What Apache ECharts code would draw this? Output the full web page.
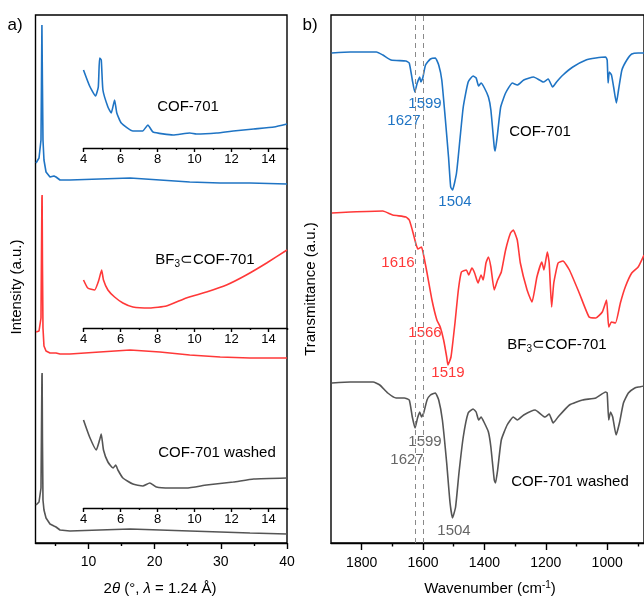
<!DOCTYPE html>
<html>
<head>
<meta charset="utf-8">
<script src="https://cdn.jsdelivr.net/npm/echarts@6/dist/echarts.min.js"></script>
<style>
  html, body { margin: 0; padding: 0; background: #fff; }
  #chart { width: 644px; height: 597px; }
</style>
</head>
<body>
<div id="chart"></div>
<script>
// ---- a) XRD, full range (2theta in deg, intensity a.u.)
var xrdX = [2.08, 2.53, 2.83, 2.90, 2.97, 3.0, 3.05, 3.13, 3.28, 3.59, 4.19, 4.79, 4.95, 5.10, 5.70, 7.2, 11.7, 16.3, 20.8, 25.3, 29.9, 34.4, 40]
var xrdCof = [22, 27, 45, 100, 160, 162, 100, 45, 25, 13, 8, 9, 11, 8, 5, 5, 6, 7, 5, 3, 2, 2, 1]
var xrdBf3 = [26, 27, 40, 100, 160, 163, 95, 30, 12, 7, 5, 5, 6, 5, 4, 4, 6, 8, 6, 3, 1, 0, 0]
var xrdWashed = [29, 32, 46, 100, 158, 161, 95, 34, 24, 16, 10, 8, 9, 7, 4, 3, 4, 5, 4, 3, 2, 1, 0]
var xrdOffsets = [358, 185, 9]

// ---- a) insets, 4-15 deg
var insCofX = [4.0, 4.33, 4.65, 4.8, 4.87, 4.96, 5.05, 5.32, 5.5, 5.68, 5.8, 6.04, 6.67, 7.2, 7.48, 7.76, 8.84, 9.75, 10.1, 11.2, 12.1, 13.2, 14.3, 15]
var insCofY = [78, 62, 52, 61, 90, 88, 58, 41, 35, 48, 35, 25, 17, 17, 23, 16, 13, 15, 14, 15, 17, 19, 21, 24]
var insBf3X = [4.0, 4.23, 4.6, 4.83, 4.98, 5.08, 5.32, 5.68, 6.13, 6.67, 7.58, 8.48, 9.56, 10.65, 11.73, 12.8, 13.9, 15]
var insBf3Y = [48, 40, 38, 48, 58, 48, 38, 31, 25, 21, 20, 22, 30, 36, 43, 53, 65, 78]
var insWashX = [4.0, 4.33, 4.69, 4.87, 4.96, 5.08, 5.32, 5.6, 5.74, 5.86, 6.13, 6.67, 7.2, 7.58, 7.94, 8.66, 9.56, 10.65, 12.1, 13.2, 15]
var insWashY = [88, 71, 58, 68, 74, 58, 46, 40, 43, 38, 30, 24, 22, 25, 21, 20, 20, 23, 26, 29, 30]

// ---- b) FTIR (wavenumber cm-1, transmittance a.u.)
var irCofX = [1898, 1837, 1752, 1731, 1704, 1656, 1645, 1635, 1627, 1619, 1611, 1607, 1601, 1592, 1576, 1560, 1549, 1539, 1528, 1517, 1510, 1504, 1491, 1480, 1469, 1453, 1437, 1427, 1419, 1411, 1400, 1387, 1379, 1368, 1365, 1357, 1347, 1331, 1309, 1293, 1272, 1240, 1208, 1192, 1178, 1165, 1144, 1112, 1069, 1037, 1005, 1000, 997, 993, 986, 979, 970, 963, 952, 936, 920, 899, 880]
var irCofY = [160, 161, 161, 158, 153, 152, 150, 133, 121, 130, 136, 131, 135, 148, 154, 155, 148, 133, 96, 56, 26, 23, 40, 73, 106, 131, 137, 135, 127, 130, 125, 116, 103, 66, 62, 80, 106, 120, 130, 128, 133, 136, 131, 134, 126, 131, 138, 146, 153, 155, 156, 153, 130, 141, 138, 126, 110, 123, 143, 153, 159, 160, 160]
var irBf3X = [1897, 1837, 1731, 1699, 1656, 1645, 1635, 1624, 1617, 1605, 1597, 1587, 1571, 1555, 1544, 1533, 1523, 1519, 1509, 1496, 1485, 1475, 1459, 1451, 1441, 1432, 1421, 1411, 1404, 1395, 1387, 1379, 1368, 1357, 1345, 1331, 1315, 1306, 1293, 1283, 1261, 1245, 1229, 1213, 1206, 1195, 1189, 1181, 1174, 1160, 1144, 1123, 1091, 1059, 1037, 1016, 1002, 995, 986, 973, 957, 941, 920, 899, 880]
var irBf3Y = [160, 161, 162, 158, 156, 153, 143, 130, 124, 126, 116, 100, 73, 53, 46, 33, 16, 8, 16, 50, 83, 101, 103, 98, 105, 100, 90, 98, 93, 110, 116, 106, 83, 93, 101, 123, 140, 143, 133, 110, 83, 71, 96, 111, 103, 121, 110, 66, 90, 110, 112, 103, 80, 56, 55, 61, 73, 46, 51, 50, 70, 86, 100, 106, 118]
var irWashX = [1897, 1837, 1763, 1741, 1715, 1688, 1661, 1645, 1635, 1626, 1618, 1611, 1605, 1598, 1587, 1576, 1560, 1549, 1537, 1523, 1512, 1504, 1494, 1483, 1469, 1453, 1437, 1427, 1419, 1411, 1400, 1387, 1379, 1368, 1364, 1357, 1345, 1326, 1306, 1293, 1272, 1235, 1203, 1189, 1176, 1160, 1123, 1080, 1037, 1005, 1000, 995, 989, 982, 971, 960, 947, 931, 910, 897, 880]
var irWashY = [160, 161, 161, 158, 150, 145, 145, 143, 126, 115, 125, 131, 126, 130, 143, 148, 150, 143, 123, 80, 40, 25, 36, 70, 106, 130, 134, 131, 123, 126, 120, 111, 96, 63, 60, 73, 103, 118, 126, 123, 128, 133, 126, 129, 120, 126, 138, 143, 145, 151, 150, 123, 131, 126, 108, 120, 140, 150, 155, 156, 157]
var irOffsets = [330, 170, 0]
var dashedPeaks = [1627, 1599]

var BLUE = '#1f74c4'
var RED = '#ff3838'
var GRAY = '#555555'
var FONT = "'Liberation Sans', Arial, sans-serif"

function pairs(xs, ys, off) {
  return xs.map(function(x, i) { return [x, ys[i] + (off || 0)] })
}

function line(data, color, xi, yi, extra) {
  var s = {
    type: 'line',
    data: data,
    xAxisIndex: xi,
    yAxisIndex: yi,
    showSymbol: false,
    smooth: 0.15,
    lineStyle: { color: color, width: 1.6 },
    itemStyle: { color: color },
    silent: true
  }
  return Object.assign(s, extra || {})
}

// major + minor x axis pair (same grid, both at bottom)
function xPair(grid, min, max, majors, minors, opt) {
  var major = {
    type: 'value', gridIndex: grid, min: min, max: max, inverse: !!opt.inverse, position: 'bottom',
    splitLine: { show: false },
    axisLine: { show: true, onZero: false, lineStyle: { color: '#000', width: 1.4 } },
    axisTick: { show: true, customValues: majors, length: opt.tick, lineStyle: { color: '#000', width: 1.4 } },
    axisLabel: {
      customValues: majors, color: '#000', fontSize: opt.font, fontFamily: FONT, margin: opt.margin,
      formatter: function(v) { return String(v) }
    }
  }
  var minor = {
    type: 'value', gridIndex: grid, min: min, max: max, inverse: !!opt.inverse, position: 'bottom',
    splitLine: { show: false },
    axisLine: { show: false, onZero: false },
    axisTick: { show: true, customValues: minors, length: opt.tick / 2, lineStyle: { color: '#000', width: 1.4 } },
    axisLabel: { show: false }
  }
  return [major, minor]
}

function yHidden(grid, max) {
  return { type: 'value', gridIndex: grid, min: 0, max: max, show: false }
}

var xAxes = []
  .concat(xPair(0, 2, 40, [10, 20, 30, 40], [5, 15, 25, 35], { tick: 6, font: 14, margin: 12 }))
  .concat(xPair(1, 4, 15, [4, 6, 8, 10, 12, 14], [5, 7, 9, 11, 13, 15], { tick: 4, font: 13, margin: 5 }))
  .concat(xPair(2, 4, 15, [4, 6, 8, 10, 12, 14], [5, 7, 9, 11, 13, 15], { tick: 4, font: 13, margin: 5 }))
  .concat(xPair(3, 4, 15, [4, 6, 8, 10, 12, 14], [5, 7, 9, 11, 13, 15], { tick: 4, font: 13, margin: 5 }))
  .concat(xPair(4, 880, 1900, [1800, 1600, 1400, 1200, 1000], [1700, 1500, 1300, 1100, 900], { tick: 7, font: 14, margin: 13, inverse: true }))

function txt(x, y, text, color, size, rich, rot) {
  var el = {
    type: 'text', x: x, y: y, silent: true,
    style: {
      text: text, fill: color, fontSize: size, fontFamily: FONT,
      align: 'center', verticalAlign: 'middle', rich: rich || {}
    }
  }
  if (rot) el.rotation = rot
  return el
}

var subRich = {
  n: { fontSize: 15, fontFamily: FONT, fill: '#000' },
  s: { fontSize: 10, fontFamily: FONT, fill: '#000', padding: [8, 0, 0, 0] }
}

var chart = echarts.init(document.getElementById('chart'))
var option = {
  animation: false,
  backgroundColor: '#fff',
  grid: [
    { left: 35.5, top: 15, width: 251.5, height: 528, show: true, borderColor: '#000', borderWidth: 1.4 },
    { left: 83.5, top: 48, width: 203.5, height: 100 },
    { left: 83.5, top: 228, width: 203.5, height: 100 },
    { left: 83.5, top: 408, width: 203.5, height: 100 },
    { left: 331, top: 15, width: 319, height: 528, show: true, borderColor: '#000', borderWidth: 1.4 }
  ],
  xAxis: xAxes,
  yAxis: [yHidden(0, 528), yHidden(1, 100), yHidden(2, 100), yHidden(3, 100), yHidden(4, 528)],
  series: [
    line(pairs(xrdX, xrdCof, xrdOffsets[0]), BLUE, 0, 0, { smooth: false }),
    line(pairs(xrdX, xrdBf3, xrdOffsets[1]), RED, 0, 0, { smooth: false }),
    line(pairs(xrdX, xrdWashed, xrdOffsets[2]), GRAY, 0, 0, { smooth: false }),
    line(pairs(insCofX, insCofY), BLUE, 2, 1),
    line(pairs(insBf3X, insBf3Y), RED, 4, 2),
    line(pairs(insWashX, insWashY), GRAY, 6, 3),
    line(pairs(irCofX, irCofY, irOffsets[0]), BLUE, 8, 4, {
      markLine: {
        silent: true, symbol: 'none', label: { show: false },
        lineStyle: { color: '#8a8a8a', type: [5, 4], width: 1 },
        data: dashedPeaks.map(function(v) { return { xAxis: v } })
      }
    }),
    line(pairs(irBf3X, irBf3Y, irOffsets[1]), RED, 8, 4),
    line(pairs(irWashX, irWashY, irOffsets[2]), GRAY, 8, 4)
  ],
  graphic: [
    txt(15, 25, 'a)', '#000', 17),
    txt(310, 25, 'b)', '#000', 17),
    txt(188, 107, 'COF-701', '#000', 15),
    txt(205, 260, '{n|BF}{s|3}{n|⊂COF-701}', '#000', 15, subRich),
    txt(217, 453, 'COF-701 washed', '#000', 15),
    txt(17, 287, 'Intensity (a.u.)', '#000', 15, null, Math.PI / 2),
    txt(311, 289, 'Transmittance (a.u.)', '#000', 15, null, Math.PI / 2),
    txt(160, 589, '{n|2}{i|θ}{n| (°, }{i|λ}{n| = 1.24 Å)}', '#000', 15, {
      n: { fontSize: 15, fontFamily: FONT, fill: '#000' },
      i: { fontSize: 15, fontFamily: FONT, fill: '#000', fontStyle: 'italic' }
    }),
    txt(490, 589, '{n|Wavenumber (cm}{p|-1}{n|)}', '#000', 15, {
      n: { fontSize: 15, fontFamily: FONT, fill: '#000' },
      p: { fontSize: 10, fontFamily: FONT, fill: '#000', padding: [0, 0, 8, 0] }
    }),
    // FTIR peak labels
    txt(425, 104, '1599', BLUE, 15),
    txt(404, 121, '1627', BLUE, 15),
    txt(455, 202, '1504', BLUE, 15),
    txt(540, 132, 'COF-701', '#000', 15),
    txt(398, 263, '1616', RED, 15),
    txt(425, 333, '1566', RED, 15),
    txt(448, 373, '1519', RED, 15),
    txt(557, 345, '{n|BF}{s|3}{n|⊂COF-701}', '#000', 15, subRich),
    txt(425, 442, '1599', '#666', 15),
    txt(407, 460, '1627', '#666', 15),
    txt(454, 531, '1504', '#666', 15),
    txt(570, 482, 'COF-701 washed', '#000', 15)
  ]
}
chart.setOption(option)
</script>
</body>
</html>
